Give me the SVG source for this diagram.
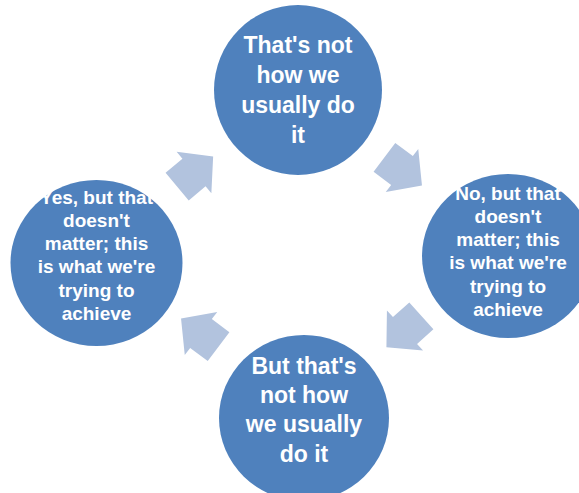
<svg xmlns="http://www.w3.org/2000/svg" width="579" height="493" viewBox="0 0 579 493">
<defs>
<style>
.node{fill:#4F81BD;}
.arr{fill:#B2C3DE;}
.t{font-family:"Liberation Sans",Arial,sans-serif;font-weight:bold;fill:#FFFFFF;text-anchor:middle;}
.big{font-size:23px;}
.small{font-size:19px;}
</style>
<polygon id="blk" points="-22,-18 0,-18 0,-27 25,0 0,27 0,18 -22,18"/>
</defs>
<rect width="579" height="493" fill="#FFFFFF"/>
<g id="connectors">
<use href="#blk" class="arr" transform="translate(194,172.5) rotate(-40)"/>
<use href="#blk" class="arr" transform="translate(402,170.5) rotate(37)"/>
<use href="#blk" class="arr" transform="translate(405,330.5) rotate(138)"/>
<use href="#blk" class="arr" transform="translate(201,333.5) rotate(-143)"/>
</g>
<g id="n1">
<ellipse class="node" cx="298" cy="90" rx="84" ry="85"/>
<text class="t big" x="298" y="53">That's not</text>
<text class="t big" x="298" y="83">how we</text>
<text class="t big" x="298" y="113">usually do</text>
<text class="t big" x="298" y="143">it</text>
</g>
<g id="n2">
<ellipse class="node" cx="508" cy="256" rx="86" ry="82"/>
<text class="t small" x="508" y="200">No, but that</text>
<text class="t small" x="508" y="223">doesn't</text>
<text class="t small" x="508" y="246">matter; this</text>
<text class="t small" x="508" y="269.2">is what we're</text>
<text class="t small" x="508" y="292.6">trying to</text>
<text class="t small" x="508" y="316">achieve</text>
</g>
<g id="n3">
<ellipse class="node" cx="304" cy="418" rx="85" ry="83"/>
<text class="t big" x="304" y="374">But that's</text>
<text class="t big" x="304" y="403">not how</text>
<text class="t big" x="304" y="432">we usually</text>
<text class="t big" x="304" y="462">do it</text>
</g>
<g id="n4">
<ellipse class="node" cx="96.5" cy="263" rx="86" ry="83"/>
<text class="t small" x="96.5" y="204">Yes, but that</text>
<text class="t small" x="96.5" y="227">doesn't</text>
<text class="t small" x="96.5" y="250">matter; this</text>
<text class="t small" x="96.5" y="273.2">is what we're</text>
<text class="t small" x="96.5" y="296.6">trying to</text>
<text class="t small" x="96.5" y="320">achieve</text>
</g>
</svg>
